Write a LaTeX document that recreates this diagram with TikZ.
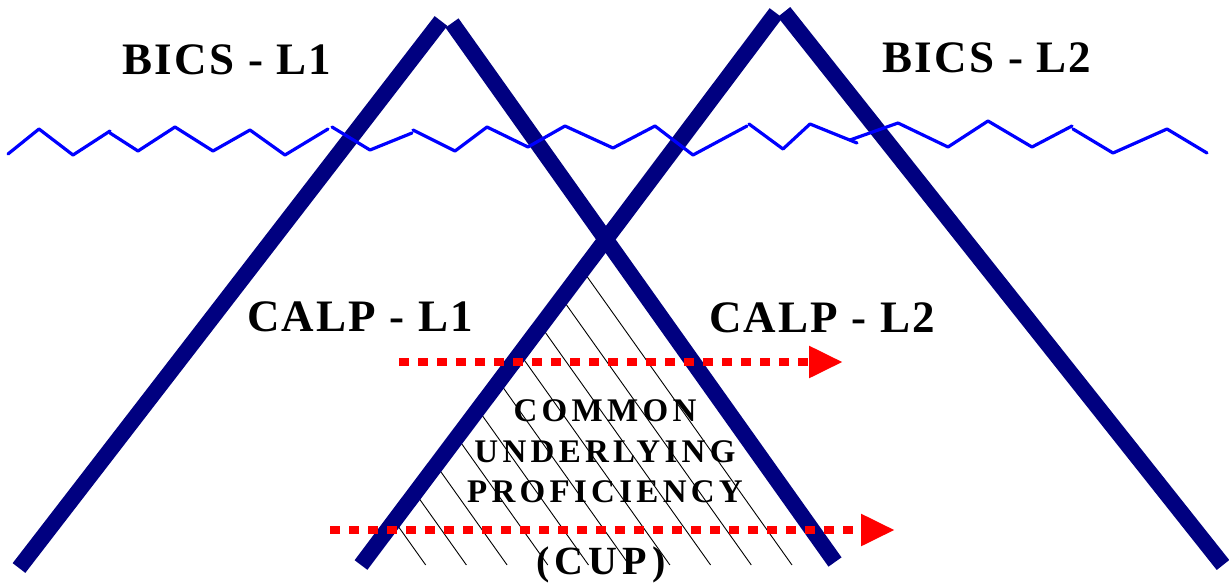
\documentclass[tikz,border=0pt]{standalone}
\usepackage{fontspec}
\setmainfont{Liberation Serif}
\newfontfamily\bigfont[LetterSpace=5]{Liberation Serif}
\newfontfamily\midfont[LetterSpace=13]{Liberation Serif}
\usetikzlibrary{arrows.meta}
\definecolor{navyc}{RGB}{0,0,128}
\definecolor{zigblue}{RGB}{0,0,255}
\definecolor{redc}{RGB}{255,0,0}
\begin{document}
\begin{tikzpicture}[x=1pt,y=-1pt,
  leg/.style={line width=16pt, draw=navyc, line cap=butt},
  wave/.style={line width=3.2pt, draw=zigblue, line cap=round, line join=round},
  hatchline/.style={line width=0.9pt, draw=black},
  redarrow/.style={line width=8.3pt, draw=redc, line cap=butt, dash pattern=on 10pt off 9pt,
    -{Triangle[length=34pt,width=30pt,fill=redc]}},
  biglabel/.style={font=\bigfont\bfseries\fontsize{45}{50}\selectfont, inner sep=0pt, text=black},
  midlabel/.style={font=\midfont\bfseries\fontsize{33}{38}\selectfont, inner sep=0pt, text=black},
  cuplabel/.style={font=\midfont\bfseries\fontsize{40}{46}\selectfont, inner sep=0pt, text=black},
]
\useasboundingbox (0,0) rectangle (1229,587);

% leg end points
\coordinate (La) at (19,568);
\coordinate (Lt) at (441,21);
\coordinate (Lu) at (452,23);
\coordinate (Lb) at (835,562);
\coordinate (Ra) at (361,565);
\coordinate (Rt) at (776,13);
\coordinate (Ru) at (784,12);
\coordinate (Rb) at (1223,565);

% hatching of the common region
\begin{scope}
  \clip (361,565) -- (606,248) -- (837,565) -- cycle;
  \foreach \k in {0,...,9} {
    \pgfmathsetmacro{\xb}{425.7+40.7*\k}
    \draw[hatchline] (\xb,565) -- ({\xb-0.7106*400},165);
  }
\end{scope}

% mountains
\draw[leg] (La) -- (Lt);
\draw[leg] (Lu) -- (Lb);
\draw[leg] (Ra) -- (Rt);
\draw[leg] (Ru) -- (Rb);

% waterline
\draw[wave] (8,154) -- (39,129) -- (73,155) -- (110,131);
\draw[wave] (110,133) -- (138,151) -- (175,127) -- (213,151) -- (250,130) -- (285,155) -- (328,129);
\draw[wave] (332,127) -- (370,150) -- (412,133);
\draw[wave] (413,130) -- (455,151) -- (487,127) -- (528,147) -- (565,126) -- (613,148) -- (655,126) -- (693,155) -- (747,126);
\draw[wave] (749,124) -- (783,149) -- (810,124) -- (857,143);
\draw[wave] (850,140) -- (898,123) -- (948,147) -- (988,121) -- (1032,147) -- (1072,126);
\draw[wave] (1073,129) -- (1113,153) -- (1167,129) -- (1207,153);

% red dotted arrows
\coordinate (a1s) at (399,362);
\coordinate (a1e) at (843,362);
\coordinate (a2s) at (330,530);
\coordinate (a2e) at (895,530);
\draw[redarrow] (a1s) -- (a1e);
\draw[redarrow] (a2s) -- (a2e);

% labels
\node[biglabel] (bics1) at (227,60) {BICS - L1};
\node[biglabel] (bics2) at (987,58) {BICS - L2};
\node[biglabel] (calp1) at (360,317) {CALP - L1};
\node[biglabel] (calp2) at (822,318) {CALP - L2};
\node[midlabel] (common) at (605,411) {COMMON};
\node[midlabel] (under) at (605,452) {UNDERLYING};
\node[midlabel] (prof) at (605,492) {PROFICIENCY};
\node[cuplabel] (cup) at (601,565) {(CUP)};
\end{tikzpicture}
\end{document}
